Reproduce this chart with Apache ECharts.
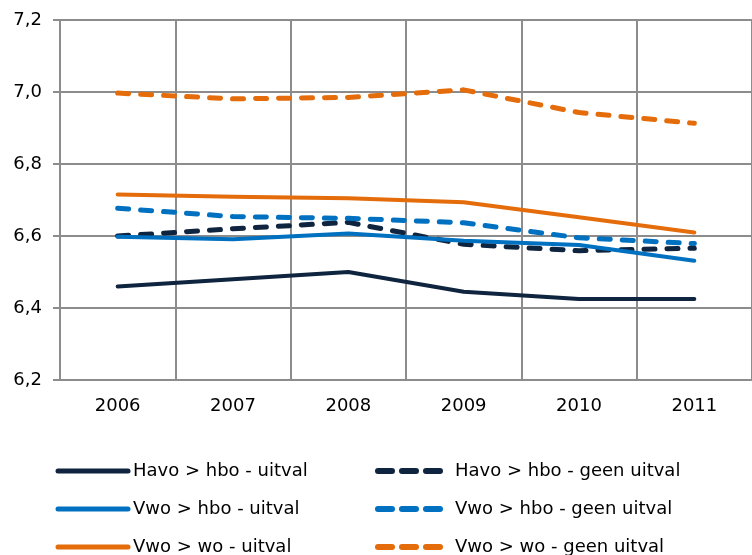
<!DOCTYPE html>
<html>
<head>
<meta charset="utf-8">
<script src="https://cdn.jsdelivr.net/npm/echarts@6/dist/echarts.min.js"></script>
<style>
html,body{margin:0;padding:0;background:#fff;}
#chart{width:752px;height:555px;}
</style>
</head>
<body>
<div id="chart"></div>
<script>
const years = ['2006', '2007', '2008', '2009', '2010', '2011'];
const havoHboUitval = [6.46, 6.48, 6.50, 6.445, 6.425, 6.425];
const havoHboGeenUitval = [6.60, 6.62, 6.638, 6.577, 6.559, 6.566];
const vwoHboUitval = [6.598, 6.591, 6.607, 6.587, 6.575, 6.531];
const vwoHboGeenUitval = [6.677, 6.654, 6.649, 6.637, 6.595, 6.579];
const vwoWoUitval = [6.715, 6.709, 6.705, 6.694, 6.652, 6.610];
const vwoWoGeenUitval = [6.997, 6.981, 6.985, 7.006, 6.943, 6.913];
const seriesNames = [
  'Havo > hbo - uitval', 'Havo > hbo - geen uitval',
  'Vwo > hbo - uitval', 'Vwo > hbo - geen uitval',
  'Vwo > wo - uitval', 'Vwo > wo - geen uitval'
];

const NAVY = '#0f243e', BLUE = '#0070c0', ORANGE = '#e46c0a';
const FONT = 'DejaVu Sans';

function solid(name, data, color) {
  return {
    name, type: 'line', data, symbol: 'none', smooth: false,
    lineStyle: { color, width: 4, cap: 'round', join: 'round' },
    itemStyle: { color }
  };
}
function dashed(name, data, color) {
  return {
    name, type: 'line', data, symbol: 'none', smooth: false,
    lineStyle: { color, width: 5, type: [11, 12], cap: 'round', join: 'round' },
    itemStyle: { color }
  };
}

const chart = echarts.init(document.getElementById('chart'), null, { renderer: 'canvas' });
chart.setOption({
  animation: false,
  backgroundColor: '#ffffff',
  grid: { left: 60, top: 20, width: 696, height: 360, containLabel: false },
  xAxis: {
    type: 'category', data: years, boundaryGap: true,
    axisLine: { lineStyle: { color: '#8c8c8c', width: 2 } },
    axisTick: { show: false },
    splitLine: { show: true, interval: 0, lineStyle: { color: '#8c8c8c', width: 2 } },
    axisLabel: { color: '#000', fontFamily: FONT, fontSize: 18, margin: 17, interval: 0 }
  },
  yAxis: {
    type: 'value', min: 6.2, max: 7.2, interval: 0.2,
    axisLine: { show: true, lineStyle: { color: '#8c8c8c', width: 2 } },
    axisTick: { show: true, length: 7, lineStyle: { color: '#8c8c8c', width: 2 } },
    splitLine: { show: true, lineStyle: { color: '#8c8c8c', width: 2 } },
    axisLabel: {
      color: '#000', fontFamily: FONT, fontSize: 18, margin: 18,
      formatter: v => v.toFixed(1).replace('.', ',')
    }
  },
  legend: [
    {
      orient: 'vertical', left: 55.5, top: 462, height: 150, padding: 0,
      itemWidth: 70, itemHeight: 14, itemGap: 20,
      data: [seriesNames[0], seriesNames[2], seriesNames[4]],
      itemStyle: { opacity: 0 },
      lineStyle: { width: 5, cap: 'round', type: 'solid' },
      textStyle: { color: '#000', fontFamily: FONT, fontSize: 18 }
    },
    {
      orient: 'vertical', left: 375, top: 462, height: 150, padding: 0,
      itemWidth: 62, itemHeight: 14, itemGap: 20,
      data: [seriesNames[1], seriesNames[3], seriesNames[5]],
      itemStyle: { opacity: 0 },
      lineStyle: { width: 6, cap: 'round', type: [14, 10] },
      textStyle: { color: '#000', fontFamily: FONT, fontSize: 18, padding: [0, 0, 0, 10] }
    }
  ],
  series: [
    solid(seriesNames[0], havoHboUitval, NAVY),
    dashed(seriesNames[1], havoHboGeenUitval, NAVY),
    solid(seriesNames[2], vwoHboUitval, BLUE),
    dashed(seriesNames[3], vwoHboGeenUitval, BLUE),
    solid(seriesNames[4], vwoWoUitval, ORANGE),
    dashed(seriesNames[5], vwoWoGeenUitval, ORANGE)
  ]
});
</script>
</body>
</html>
